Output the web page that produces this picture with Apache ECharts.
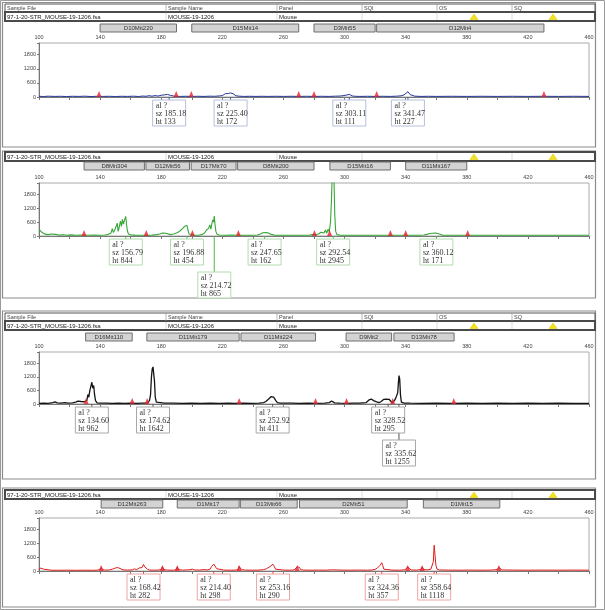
<!DOCTYPE html>
<html><head><meta charset="utf-8">
<script src="https://cdn.jsdelivr.net/npm/echarts@6/dist/echarts.min.js"></script>
<style>html,body{margin:0;padding:0;background:#fff}#c{width:605px;height:610px}</style>
</head><body><div id="c"></div>
<script>
// ---------- DATA ----------
const sizeLabels = [100,140,180,220,260,300,340,380,420,460];
const heightLabels = [0,600,1200,1800];
const fileName = '97-1-20-STR_MOUSE-19-1206.fsa';
const sampleName = 'MOUSE-19-1206';
const panelName = 'Mouse';
const headerLabels = ['Sample File','Sample Name','Panel','SQI','OS','SQ'];

// blue dye trace [size, height]
const traceBlue = [[100,30],[103,20],[106,35],[110,25],[114,30],[118,20],[122,30],[126,25],[130,35],[134,20],[138,30],[142,25],[146,30],[150,20],[154,30],[158,25],[162,35],[165,20],[168,40],[170,30],[172,55],[174,35],[176,60],[178,40],[180,75],[181,45],[182,90],[183,60],[184,110],[185.18,133],[186,70],[187,40],[189,30],[192,25],[196,30],[200,25],[204,30],[208,25],[212,35],[215,30],[218,45],[220,60],[221,90],[222,140],[223,110],[224,150],[225.4,172],[226,120],[227,140],[228,80],[229,50],[231,35],[234,25],[238,30],[242,25],[246,30],[250,25],[255,30],[260,25],[265,30],[270,25],[275,30],[280,25],[285,30],[290,25],[294,35],[297,40],[299,55],[301,80],[302,95],[303.11,111],[304,70],[305,45],[307,30],[310,25],[315,30],[320,25],[325,30],[330,25],[334,35],[337,50],[339,90],[340,150],[341.47,227],[342.3,170],[343,100],[344,60],[346,35],[350,25],[355,30],[360,25],[370,30],[380,25],[390,30],[400,25],[410,30],[420,25],[430,30],[440,25],[450,30],[460,25]];
// green dye trace
const traceGreen = [[100,300],[100.5,380],[101,250],[102,150],[103,100],[104,80],[106,60],[108,90],[109,50],[111,70],[113,40],[116,55],[118,35],[121,50],[124,30],[128,40],[132,30],[136,45],[140,30],[143,45],[145,60],[147,120],[148,320],[148.7,150],[149.5,250],[150.5,420],[151.2,560],[151.8,200],[152.5,380],[153.3,650],[154,420],[154.6,720],[155.3,520],[156,700],[156.79,844],[157.3,500],[157.8,250],[158.5,90],[160,50],[163,40],[166,35],[170,30],[174,40],[177,60],[179,90],[181,130],[182,190],[183,120],[184,70],[186,60],[188,90],[190,130],[191.5,180],[193,260],[194.2,330],[195.3,420],[196.2,380],[196.88,454],[197.5,260],[198.2,90],[199,50],[202,35],[205,40],[207,70],[208.5,140],[209.5,250],[210.3,180],[211,330],[211.8,480],[212.5,300],[213.2,560],[213.8,700],[214.3,600],[214.72,865],[215.2,500],[215.8,200],[216.5,80],[218,45],[222,35],[226,40],[230,30],[235,35],[240,30],[243,45],[245,90],[246.5,140],[247.65,162],[249,150],[250.5,120],[252,70],[254,40],[258,30],[263,35],[268,30],[273,35],[277,40],[279,60],[281,50],[283,90],[284.5,160],[285.5,80],[286.5,130],[287.5,260],[288.3,120],[289.2,300],[290,180],[290.8,600],[291.4,1500],[291.9,2600],[292.54,2945],[293.1,2400],[293.6,900],[294.2,200],[295,60],[297,40],[302,30],[310,35],[318,30],[325,35],[330,30],[336,35],[342,30],[348,35],[352,45],[354,70],[355.5,110],[356.5,140],[357.5,120],[358.5,150],[359.5,130],[360.12,171],[361,110],[362,60],[364,40],[370,30],[380,35],[390,30],[400,35],[410,30],[420,35],[430,30],[440,35],[450,30],[460,30]];
// black dye trace
const traceBlack = [[100,30],[103,40],[106,30],[109,60],[110.5,90],[112,50],[114,40],[117,60],[119,40],[122,50],[124,80],[125.5,130],[126.5,170],[127.5,110],[128.5,60],[129.5,100],[130.5,60],[131.3,150],[132,420],[132.6,300],[133.3,600],[133.9,520],[134.6,962],[135.2,700],[135.8,820],[136.4,400],[137,150],[138,50],[140,35],[144,40],[148,30],[152,40],[156,30],[160,35],[164,30],[167,40],[169,35],[171,50],[172.3,150],[173,400],[173.6,1200],[174.1,1550],[174.62,1642],[175.1,1580],[175.6,1000],[176.1,300],[176.8,80],[178,40],[182,35],[188,40],[194,30],[200,35],[206,30],[212,35],[218,30],[224,35],[228,30],[234,35],[240,30],[244,40],[247,60],[248.5,110],[249.5,160],[250.5,230],[251.3,180],[252,330],[252.92,411],[253.6,300],[254.2,350],[255,150],[256,60],[258,40],[262,35],[266,40],[270,30],[276,35],[282,30],[287,40],[290,60],[291.5,130],[292.5,100],[293.5,50],[297,35],[302,30],[306,40],[310,35],[314,60],[316,180],[317.5,220],[319,150],[320,200],[321,90],[322.5,60],[324,110],[325.5,200],[326.5,260],[327.5,220],[328.52,295],[329.3,200],[330,120],[331,60],[332.5,140],[333.5,260],[334.2,180],[334.8,500],[335.2,900],[335.62,1255],[336.1,1100],[336.6,400],[337.2,80],[339,40],[343,35],[350,30],[360,35],[370,30],[380,35],[390,30],[400,35],[410,30],[420,35],[430,30],[440,35],[450,30],[460,30]];
// red dye trace
const traceRed = [[100,40],[100.8,130],[101.5,60],[103,80],[104,40],[108,35],[112,30],[118,35],[124,30],[130,35],[135,30],[138,35],[140,60],[140.7,150],[141.5,60],[143,40],[146,45],[148,80],[150,130],[151.5,150],[153,110],[155,50],[158,40],[161,50],[162.5,90],[164,60],[165.5,130],[166.5,200],[167.5,150],[168.42,282],[169.2,180],[170,220],[171,80],[172.5,40],[175,35],[178,40],[180,60],[180.8,180],[181.6,60],[184,40],[188,35],[190,60],[190.5,160],[191.2,60],[194,40],[198,50],[200.5,80],[202,45],[205,40],[208,60],[210,45],[212,80],[213,200],[213.6,150],[214.4,298],[215,220],[215.6,240],[216.3,100],[217.5,50],[221,40],[226,35],[229,40],[230.5,80],[231,200],[231.6,140],[232.5,60],[235,40],[240,35],[244,40],[247,60],[249,100],[250.3,140],[251.3,200],[252.3,160],[253.16,290],[254,200],[254.8,80],[256,45],[260,40],[264,35],[267,45],[268.3,130],[269,180],[269.8,160],[270.6,150],[271.2,60],[273,40],[278,35],[283,40],[288,35],[291,50],[292,110],[293,50],[297,40],[303,35],[309,40],[315,35],[318,45],[320,70],[321.5,130],[322.5,110],[323.3,250],[324,200],[324.36,357],[325,240],[325.7,80],[327,45],[331,40],[336,35],[339.5,50],[340.5,110],[341.3,180],[342.2,100],[343.5,45],[347,40],[350,60],[350.8,170],[351.6,70],[354,45],[356.5,80],[357.5,160],[358.1,400],[358.64,1118],[359.2,700],[359.8,250],[360.5,80],[362,45],[368,40],[375,35],[382,40],[390,35],[396,40],[400,60],[401,160],[401.8,80],[403,45],[410,40],[420,35],[430,40],[440,35],[450,40],[460,35]];

// size-standard marker positions (red triangles)
const stdBlue = [139.3,189.8,199.7,270,280,321,430.5];
const stdGreen = [129.5,170.2,200.4,230.5,280.3,290.2,330,340,380.6];
const stdBlack = [130.8,161,170.8,231,281,301.3,331.5,371.5];
const stdRed = [140.7,180.8,190.5,231,269,341.3,350.8,401];

// locus bins [name, start, end]
const lociBlue = [['D10Mit220',140,190],['D15Mit14',200,270],['D3Mit55',280,320],['D12Mit4',321,430.5]];
const lociGreen = [['D8Mit304',129.5,169],['D12Mit56',170,198.5],['D17Mit70',199.6,229],['D8Mit200',230,280],['D15Mit16',290.4,330],['D11Mit167',340,380]];
const lociBlack = [['D16Mit110',130.5,161],['D11Mit179',170.6,231],['D11Mit224',232.2,281],['D9Mit2',301,330.8],['D13Mit78',332.3,371.7]];
const lociRed = [['D12Mit263',140.7,181],['D1Mit17',190.5,231],['D13Mit66',231.8,269],['D2Mit51',270.5,341],['D1Mit15',351.6,401.6]];

// allele calls [size, height, row]
const callsBlue = [[185.18,133,0],[225.40,172,0],[303.11,111,0],[341.47,227,0]];
const callsGreen = [[156.79,844,0],[196.88,454,0],[214.72,865,1],[247.65,162,0],[292.54,2945,0],[360.12,171,0]];
const callsBlack = [[134.60,962,0],[174.62,1642,0],[252.92,411,0],[328.52,295,0],[335.62,1255,1]];
const callsRed = [[168.42,282,0],[214.40,298,0],[253.16,290,0],[324.36,357,0],[358.64,1118,0]];

// ---------- LAYOUT / STYLE ----------
const panels = [
  {trace: traceBlue, std: stdBlue, loci: lociBlue, calls: callsBlue, color:'#24359a', lw:1, link:'#4a5cb8', box:'#b6bfdc',
   frame:[2.5,147], head:[4,12,21], gridTop:43, gridH:54, lociY:[24,32]},
  {trace: traceGreen, std: stdGreen, loci: lociGreen, calls: callsGreen, color:'#36a636', lw:1.1, link:'#4cb84c', box:'#b3dcae',
   frame:[151,298], head:[null,152,161], gridTop:183, gridH:53, lociY:[162,170]},
  {trace: traceBlack, std: stdBlack, loci: lociBlack, calls: callsBlack, color:'#151515', lw:1.3, link:'#555', box:'#a8a8a8',
   frame:[311,479], head:[313,321,330], gridTop:352, gridH:52, lociY:[333,341]},
  {trace: traceRed, std: stdRed, loci: lociRed, calls: callsRed, color:'#e01c1c', lw:1, link:'#e04040', box:'#f0a6a6',
   frame:[488,607], head:[null,490,499], gridTop:518, gridH:53, lociY:[500,508]}
];
const colX = [5,166,277,362,437,512,595];

const chart = echarts.init(document.getElementById('c'), null, {renderer:'canvas'});
const grids=[], xAxes=[], yAxes=[], series=[];
panels.forEach((p,i)=>{
  grids.push({left:39, right:16, top:p.gridTop, height:p.gridH, show:true, borderColor:'#aaa', borderWidth:1, containLabel:false});
  xAxes.push({type:'value', gridIndex:i, position:'top', min:sizeLabels[0], max:sizeLabels[sizeLabels.length-1], interval:20,
    axisLine:{show:true, lineStyle:{color:'#777', width:1}},
    axisTick:{show:true, inside:true, length:3, lineStyle:{color:'#777'}},
    axisLabel:{fontSize:5.5, color:'#444', margin:3, fontFamily:'Liberation Sans',
      formatter:v=> sizeLabels.indexOf(v)>=0 ? String(v) : ''},
    splitLine:{show:false}});
  yAxes.push({type:'value', gridIndex:i, min:0, max:2300, interval:600,
    axisLine:{show:true, lineStyle:{color:'#777', width:1}},
    axisTick:{show:true, length:2, lineStyle:{color:'#777'}},
    axisLabel:{fontSize:5.5, color:'#444', margin:3, fontFamily:'Liberation Sans',
      formatter:v=> heightLabels.indexOf(v)>=0 ? String(v) : ''},
    splitLine:{show:false}});
  series.push({type:'line', xAxisIndex:i, yAxisIndex:i, data:p.trace, showSymbol:false, symbol:'none',
    lineStyle:{color:p.color, width:p.lw}, clip:true, animation:false, z:2});
  series.push({type:'scatter', xAxisIndex:i, yAxisIndex:i, data:p.std.map(s=>[s,0]), symbol:'triangle',
    symbolSize:[5,6], symbolOffset:[0,-3], itemStyle:{color:'#e3202c'}, clip:false, animation:false, z:3, silent:true});
});
chart.setOption({animation:false, grid:grids, xAxis:xAxes, yAxis:yAxes, series:series});

// ---------- GRAPHICS (positions of marks via the axis scales) ----------
const els = [];
els.push({type:'rect', shape:{x:0.5,y:0.5,width:604,height:609}, style:{fill:'none', stroke:'#9a9a9a', lineWidth:1}, z:1});
panels.forEach((p,i)=>{
  els.push({type:'rect', shape:{x:2.5,y:p.frame[0],width:593,height:p.frame[1]-p.frame[0]}, style:{fill:'none', stroke:'#8c8c8c', lineWidth:1.2}, z:1});
  if (p.head[0]!==null){
    const y0=p.head[0], y1=p.head[1];
    els.push({type:'rect', shape:{x:colX[0],y:y0,width:colX[6]-colX[0],height:y1-y0}, style:{fill:'#fff', stroke:'#555', lineWidth:1}, z:5});
    headerLabels.forEach((t,k)=>{
      if(k>0) els.push({type:'line', shape:{x1:colX[k],y1:y0,x2:colX[k],y2:y1}, style:{stroke:'#999', lineWidth:0.7}, z:6});
      els.push({type:'text', style:{text:t, x:colX[k]+2, y:(y0+y1)/2+0.5, font:'5.5px "Liberation Sans"', fill:'#444', textVerticalAlign:'middle', verticalAlign:'middle'}, z:7});
    });
  }
  const v0=p.head[1], v1=p.head[2];
  els.push({type:'rect', shape:{x:colX[0],y:v0,width:colX[6]-colX[0],height:v1-v0}, style:{fill:'#fff', stroke:'#4a4a4a', lineWidth:2}, z:5});
  for(let k=1;k<6;k++) els.push({type:'line', shape:{x1:colX[k],y1:v0+1,x2:colX[k],y2:v1-1}, style:{stroke:'#cfcfcf', lineWidth:0.7}, z:6});
  [[fileName,0],[sampleName,1],[panelName,2]].forEach(([t,k])=>{
    els.push({type:'text', style:{text:t, x:colX[k]+2, y:(v0+v1)/2+0.5, font:'6px "Liberation Sans"', fill:'#222', textVerticalAlign:'middle', verticalAlign:'middle'}, z:7});
  });
  [474,553].forEach(cx=>{
    els.push({type:'polygon', shape:{points:[[cx-4,v1-1.5],[cx+4,v1-1.5],[cx,v0+2]]}, style:{fill:'#f2e21c', stroke:'#d8c800', lineWidth:0.5}, z:7});
  });
  p.loci.forEach(([name,a,b])=>{
    const xa = chart.convertToPixel({xAxisIndex:i,yAxisIndex:i},[a,0])[0];
    const xb = chart.convertToPixel({xAxisIndex:i,yAxisIndex:i},[b,0])[0];
    els.push({type:'rect', shape:{x:xa,y:p.lociY[0],width:xb-xa,height:p.lociY[1]-p.lociY[0]}, style:{fill:'#d3d3d3', stroke:'#6e6e6e', lineWidth:1}, z:5});
    els.push({type:'text', style:{text:name, x:(xa+xb)/2, y:(p.lociY[0]+p.lociY[1])/2+0.5, font:'6px "Liberation Sans"', fill:'#333', textAlign:'center', align:'center', textVerticalAlign:'middle', verticalAlign:'middle'}, z:6});
  });
  p.calls.forEach(([sz,ht,row])=>{
    const pt = chart.convertToPixel({xAxisIndex:i,yAxisIndex:i},[sz,0]);
    const bx = pt[0]-16.5, by = pt[1]+3+row*33;
    els.push({type:'line', shape:{x1:pt[0],y1:pt[1],x2:pt[0],y2:by}, style:{stroke:p.link, lineWidth:1}, z:4});
    els.push({type:'rect', shape:{x:bx,y:by,width:33,height:26}, style:{fill:'#fff', stroke:p.box, lineWidth:1}, z:5});
    els.push({type:'text', style:{text:'al ?\nsz '+sz.toFixed(2)+'\nht '+ht, x:bx+3, y:by+2, font:'8px "Liberation Serif"', lineHeight:7.8, fill:'#333', textVerticalAlign:'top', verticalAlign:'top'}, z:6});
  });
});
chart.setOption({graphic:{elements:els}});
</script>
</body></html>
